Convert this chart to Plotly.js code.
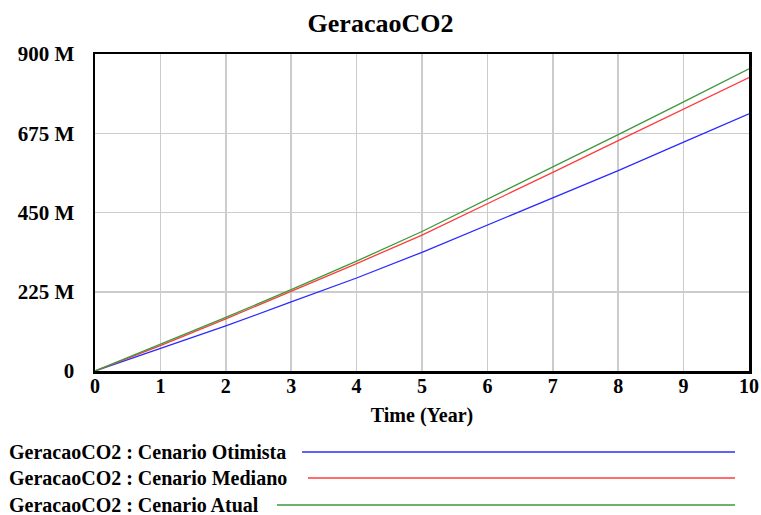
<!DOCTYPE html>
<html>
<head>
<meta charset="utf-8">
<script src="https://cdn.plot.ly/plotly-3.0.1.min.js"></script>
<style>html,body{margin:0;padding:0;background:#fff;}#chart{width:761px;height:515px;}</style>
</head>
<body>
<div id="chart"></div>
<script>
const years = [0, 1, 2, 3, 4, 5, 6, 7, 8, 9, 10];
const otimista = [0, 63e6, 128e6, 196e6, 264e6, 337e6, 414e6, 491e6, 569e6, 650e6, 730e6];
const mediano = [0, 72e6, 148e6, 226e6, 305e6, 386e6, 474e6, 564e6, 654e6, 743e6, 833e6];
const atual = [0, 75e6, 152e6, 231e6, 312e6, 396e6, 487e6, 578e6, 671e6, 764e6, 858e6];
const yTickVals = [0, 225e6, 450e6, 675e6, 900e6];
const yTickText = ["0", "225 M", "450 M", "675 M", "900 M"];
const seriesNames = ["GeracaoCO2 : Cenario Otimista", "GeracaoCO2 : Cenario Mediano", "GeracaoCO2 : Cenario Atual"];
const seriesColors = ["#2b2bff", "#ff3b3b", "#3c9a3c"];
const seriesData = [otimista, mediano, atual];

const FONT = "Liberation Serif, Times New Roman, serif";
const L = 95, R = 12, T = 54, B = 144, W = 761, H = 515;
const pw = W - L - R, ph = H - T - B;
const px2x = p => (p - L) / pw;
const py2y = p => (H - B - p) / ph;

const traces = seriesData.map((d, i) => ({
  x: years, y: d, type: 'scatter', mode: 'lines', name: seriesNames[i],
  line: {color: seriesColors[i], width: 1.3}, showlegend: false
}));

const rowsY = [452, 478, 505];
const lineStart = [302, 308, 277];
const annotations = seriesNames.map((n, i) => ({
  xref: 'paper', yref: 'paper', x: px2x(7), y: py2y(rowsY[i]),
  xanchor: 'left', yanchor: 'middle', showarrow: false, text: '<b>' + n + '</b>',
  font: {family: FONT, size: 20, color: '#000'}
}));
const shapes = seriesNames.map((n, i) => ({
  type: 'line', xref: 'paper', yref: 'paper',
  x0: px2x(lineStart[i]), x1: px2x(735), y0: py2y(rowsY[i]), y1: py2y(rowsY[i]),
  line: {color: seriesColors[i], width: 1.5}
}));

const layout = {
  width: W, height: H,
  margin: {l: L, r: R, t: T, b: B},
  paper_bgcolor: '#fff', plot_bgcolor: '#fff',
  title: {text: '<b>GeracaoCO2</b>', font: {family: FONT, size: 26, color: '#000'},
          xref: 'container', x: 0.5, xanchor: 'center', y: 1 - 23 / H, yanchor: 'middle'},
  xaxis: {
    range: [0, 10], dtick: 1, tick0: 0, showgrid: true, gridcolor: '#cccccc', gridwidth: 1.5,
    zeroline: false, showline: true, linecolor: '#000', linewidth: 2.5, mirror: true,
    ticks: '', ticklabelstandoff: -5,
    tickfont: {family: FONT, size: 20, color: '#000', weight: 'bold'}, tickformat: 'd',
    title: {text: '<b>Time (Year)</b>', font: {family: FONT, size: 20, color: '#000'}, standoff: 13}
  },
  yaxis: {
    range: [0, 900e6], tickvals: yTickVals, ticktext: yTickText,
    showgrid: true, gridcolor: '#cccccc', gridwidth: 1.5,
    zeroline: false, showline: true, linecolor: '#000', linewidth: 2.5, mirror: true,
    ticks: '', ticklabelstandoff: 14,
    tickfont: {family: FONT, size: 21, color: '#000', weight: 'bold'}
  },
  annotations: annotations,
  shapes: shapes,
  showlegend: false
};

Plotly.newPlot('chart', traces, layout, {displayModeBar: false, staticPlot: true});
</script>
</body>
</html>
